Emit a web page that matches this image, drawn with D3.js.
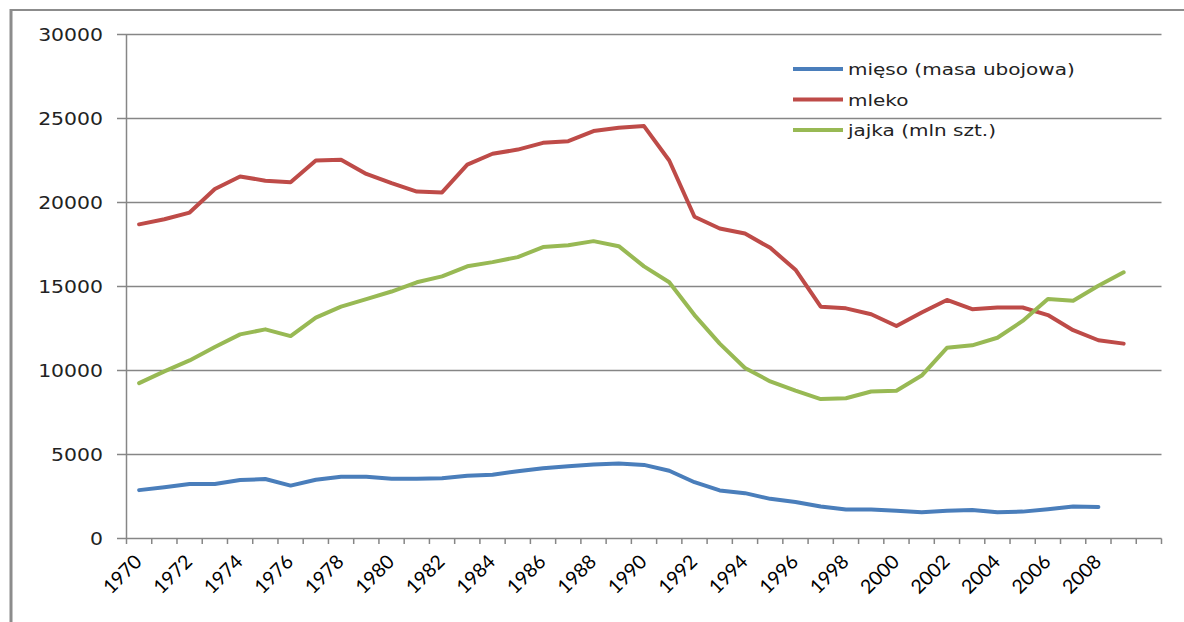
<!DOCTYPE html>
<html>
<head>
<meta charset="utf-8">
<script src="https://cdn.jsdelivr.net/npm/d3@7"></script>
<style>
  body { margin: 0; background: #fff; }
</style>
</head>
<body>
<svg width="1184" height="622"></svg>
<script>
// categories (the last slot has no label in the original)
var years = ["1970","1971","1972","1973","1974","1975","1976","1977","1978","1979",
             "1980","1981","1982","1983","1984","1985","1986","1987","1988","1989",
             "1990","1991","1992","1993","1994","1995","1996","1997","1998","1999",
             "2000","2001","2002","2003","2004","2005","2006","2007","2008","2009","2010"];
var shownLabels = ["1970","1972","1974","1976","1978","1980","1982","1984","1986","1988",
                   "1990","1992","1994","1996","1998","2000","2002","2004","2006","2008"];
var yTicks = [0, 5000, 10000, 15000, 20000, 25000, 30000];

// mięso (masa ubojowa), 1970-2008
var meat = [2880,3050,3250,3250,3480,3540,3150,3500,3670,3680,
            3560,3560,3580,3740,3800,4000,4180,4300,4400,4470,
            4380,4030,3350,2860,2700,2360,2170,1900,1720,1720,
            1650,1560,1650,1700,1560,1600,1740,1900,1880];
// mleko, 1970-2009
var milk = [18700,19000,19400,20800,21550,21300,21200,22500,22550,21700,
            21150,20650,20600,22250,22900,23150,23550,23650,24250,24450,
            24550,22500,19150,18450,18150,17300,16000,13800,13700,13350,
            12650,13450,14200,13650,13750,13750,13300,12400,11800,11600];
// jajka (mln szt.), 1970-2009
var eggs = [9250,9950,10600,11400,12150,12450,12050,13150,13800,14250,
            14700,15250,15600,16200,16450,16750,17350,17450,17700,17400,
            16200,15250,13300,11600,10150,9350,8800,8300,8350,8750,
            8800,9700,11350,11500,11950,12950,14250,14150,15050,15850];

var seriesNames = ["mięso (masa ubojowa)", "mleko", "jajka (mln szt.)"];
var seriesColors = ["#4a7ebb", "#be4b48", "#98b954"];
var seriesData = [meat, milk, eggs];

var svg = d3.select("svg");

var x = d3.scaleBand().domain(years).range([126.5, 1161.5]);
var y = d3.scaleLinear().domain([0, 30000]).range([538.5, 34.5]);

// chart frame (left and top edge visible)
svg.append("line").attr("x1", 11).attr("x2", 11).attr("y1", 9).attr("y2", 622)
  .attr("stroke", "#8c8c8c").attr("stroke-width", 3);
svg.append("line").attr("x1", 10).attr("x2", 1184).attr("y1", 10).attr("y2", 10)
  .attr("stroke", "#8c8c8c").attr("stroke-width", 2);

// gridlines
svg.append("g")
  .selectAll("line")
  .data(yTicks)
  .enter().append("line")
  .attr("x1", 117).attr("x2", 1161.5)
  .attr("y1", function(d) { return y(d); })
  .attr("y2", function(d) { return y(d); })
  .attr("stroke", "#868686").attr("stroke-width", 1.5);

// y axis line
svg.append("line")
  .attr("x1", 126.5).attr("x2", 126.5)
  .attr("y1", y(30000)).attr("y2", 544)
  .attr("stroke", "#868686").attr("stroke-width", 1.5);

// y labels
svg.append("g")
  .selectAll("text")
  .data(yTicks)
  .enter().append("text")
  .attr("transform", function(d) { return "translate(103," + (y(d) + 6) + ") scale(1.2,1)"; })
  .attr("text-anchor", "end")
  .style("font-family", "DejaVu Sans, Verdana, sans-serif")
  .style("font-size", "17px")
  .attr("fill", "#222")
  .text(function(d) { return d; });

// x tick marks at category boundaries
svg.append("g")
  .selectAll("line")
  .data(years.slice(1).concat(["end"]))
  .enter().append("line")
  .attr("x1", function(d, i) { return x(years[0]) + (i + 1) * x.bandwidth(); })
  .attr("x2", function(d, i) { return x(years[0]) + (i + 1) * x.bandwidth(); })
  .attr("y1", 538.5).attr("y2", 544)
  .attr("stroke", "#868686").attr("stroke-width", 1.5);

// x labels, rotated
svg.append("g")
  .selectAll("text")
  .data(shownLabels)
  .enter().append("text")
  .attr("transform", function(d) {
    return "translate(" + (x(d) + x.bandwidth() / 2 + 4) + ",563) rotate(-45)";
  })
  .attr("text-anchor", "end")
  .style("font-family", "Lato, Carlito, sans-serif")
  .style("font-size", "19.5px")
  .attr("fill", "#000")
  .text(function(d) { return d; });

// lines
var line = d3.line()
  .x(function(d, i) { return x(years[i]) + x.bandwidth() / 2; })
  .y(function(d) { return y(d); });

svg.append("g")
  .selectAll("path")
  .data(seriesData)
  .enter().append("path")
  .attr("d", function(d) { return line(d); })
  .attr("fill", "none")
  .attr("stroke", function(d, i) { return seriesColors[i]; })
  .attr("stroke-width", 4)
  .attr("stroke-linejoin", "round")
  .attr("stroke-linecap", "round");

// legend
var legend = svg.append("g")
  .selectAll("g")
  .data(seriesNames)
  .enter().append("g")
  .attr("transform", function(d, i) { return "translate(793," + (69 + i * 30.5) + ")"; });

legend.append("line")
  .attr("x1", 0).attr("x2", 50).attr("y1", 0).attr("y2", 0)
  .attr("stroke", function(d, i) { return seriesColors[i]; })
  .attr("stroke-width", 4);

legend.append("text")
  .attr("transform", "translate(55,6) scale(1.25,1)")
  .style("font-family", "DejaVu Sans, Verdana, sans-serif")
  .style("font-size", "16px")
  .attr("fill", "#222")
  .text(function(d) { return d; });
</script>
</body>
</html>
